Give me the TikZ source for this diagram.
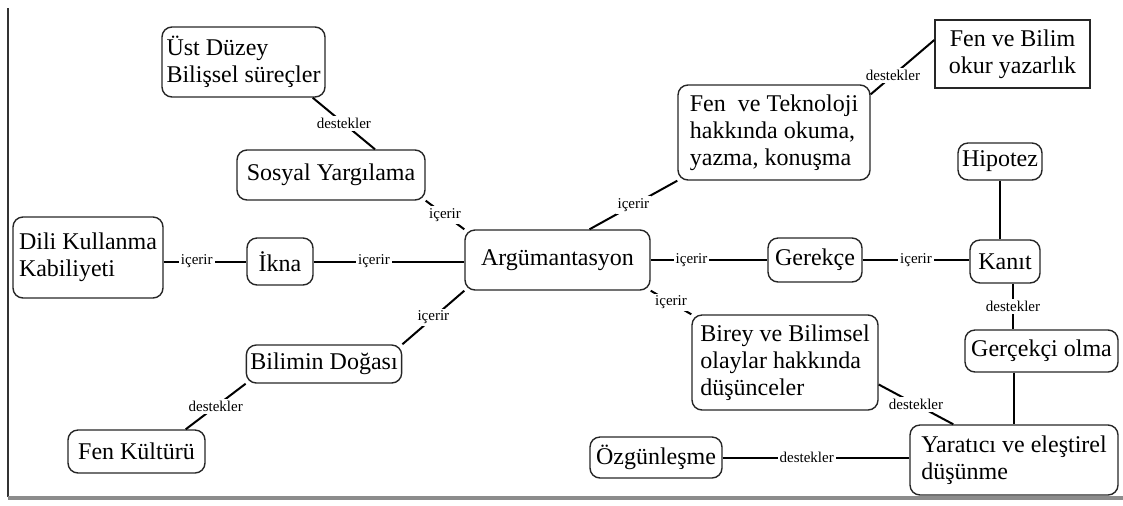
\documentclass[tikz,border=0pt]{standalone}
\usepackage{fontspec}
\setmainfont{Liberation Serif}
\usetikzlibrary{calc}
\begin{document}
\begin{tikzpicture}[x=0.5pt,y=-0.5pt,
  box/.style={draw=black!85, line width=0.7pt, rounded corners=5pt, inner sep=2pt,
    font=\fontsize{12}{13.5}\selectfont},
  sqbox/.style={box, rounded corners=0pt},
  sz/.style 2 args={minimum width=#1*0.5pt, minimum height=#2*0.5pt},
  con/.style={line width=1pt, black},
  lbl/.style={fill=white, inner sep=1pt, font=\fontsize{7.5}{8}\selectfont}]
\useasboundingbox (0,0) rectangle (1123,505);
% frame
\draw[line width=1.3pt, black!80] (8,8) -- (8,497);
\draw[line width=2pt, black!45] (8,498) -- (1123,498);
% nodes
\node[box, sz={163}{70}, align=left] (ust) at (243.5,62) {Üst Düzey\\Bilişsel süreçler};
\node[box, sz={188}{50}] (sosyal) at (331,175) {Sosyal Yargılama};
\node[box, sz={150}{81}, align=left] (dili) at (88,257.5) {Dili Kullanma\\Kabiliyeti};
\node[box, sz={66}{47}] (ikna) at (280,261.5) {İkna};
\node[box, sz={185}{60}] (arg) at (557.5,260) {Argümantasyon};
\node[box, sz={94}{44}] (gerekce) at (815,260) {Gerekçe};
\node[box, sz={70}{43}] (kanit) at (1005,261.5) {Kanıt};
\node[box, sz={67}{37}] (hipotez) at (1000,161.5) {Hipotez};
\node[box, sz={153}{42}] (gercekci) at (1041.5,351) {Gerçekçi olma};
\node[box, sz={208}{70}, align=left] (yaratici) at (1014,460) {Yaratıcı ve eleştirel\\düşünme};
\node[box, sz={132}{41}] (ozgun) at (656,457.5) {Özgünleşme};
\node[box, sz={186}{95}, align=left] (birey) at (785,362.5) {Birey ve Bilimsel\\olaylar hakkında\\düşünceler};
\node[box, sz={192}{95}, align=left] (fentek) at (774,132.5) {Fen\ \ ve Teknoloji\\hakkında okuma,\\yazma, konuşma};
\node[sqbox, sz={155}{68}, align=center] (fenbilim) at (1012.5,54) {Fen ve Bilim\\okur yazarlık};
\node[box, sz={152}{38}] (bilimin) at (324,364) {Bilimin Doğası};
\node[box, sz={137}{43}] (fenkultur) at (136.5,451.5) {Fen Kültürü};
% connectors
\draw[con] ([xshift=-6.5pt]ust.south east) -- node[lbl]{destekler} ([xshift=22pt]sosyal.north);
\draw[con] (sosyal.south east) -- node[lbl]{içerir} (arg.north west);
\draw[con] (dili.east |- ikna.west) -- node[lbl, pos=0.4]{içerir} (ikna.west);
\draw[con] (ikna.east) -- node[lbl, pos=0.4]{içerir} (arg.west |- ikna.east);
\draw[con] (arg.east) -- node[lbl, pos=0.35]{içerir} (gerekce.west);
\draw[con] (gerekce.east) -- node[lbl]{içerir} (kanit.west |- gerekce.east);
\draw[con] (hipotez.south) -- (hipotez.south |- kanit.north);
\draw[con] ([xshift=4pt]kanit.south) -- node[lbl]{destekler} ([xshift=4pt]kanit.south |- gercekci.north);
\draw[con] (gercekci.south -| yaratici.north) -- (yaratici.north);
\draw[con] (ozgun.east) -- node[lbl, pos=0.45]{destekler} (yaratici.west |- ozgun.east);
\draw[con] ([xshift=16pt]arg.north) -- node[lbl]{içerir} (fentek.south west);
\draw[con] ([yshift=-5pt]fentek.north east) -- node[lbl, pos=0.35]{destekler} ([yshift=7pt]fenbilim.west);
\draw[con] (arg.south east) -- node[lbl]{içerir} (birey.north west);
\draw[con] ([yshift=-11pt]birey.east) -- node[lbl]{destekler} ([xshift=22pt]yaratici.north west);
\draw[con] (arg.south west) -- node[lbl]{içerir} (bilimin.north east);
\draw[con] (bilimin.south west) -- node[lbl]{destekler} ([xshift=-10pt]fenkultur.north east);
\end{tikzpicture}
\end{document}
